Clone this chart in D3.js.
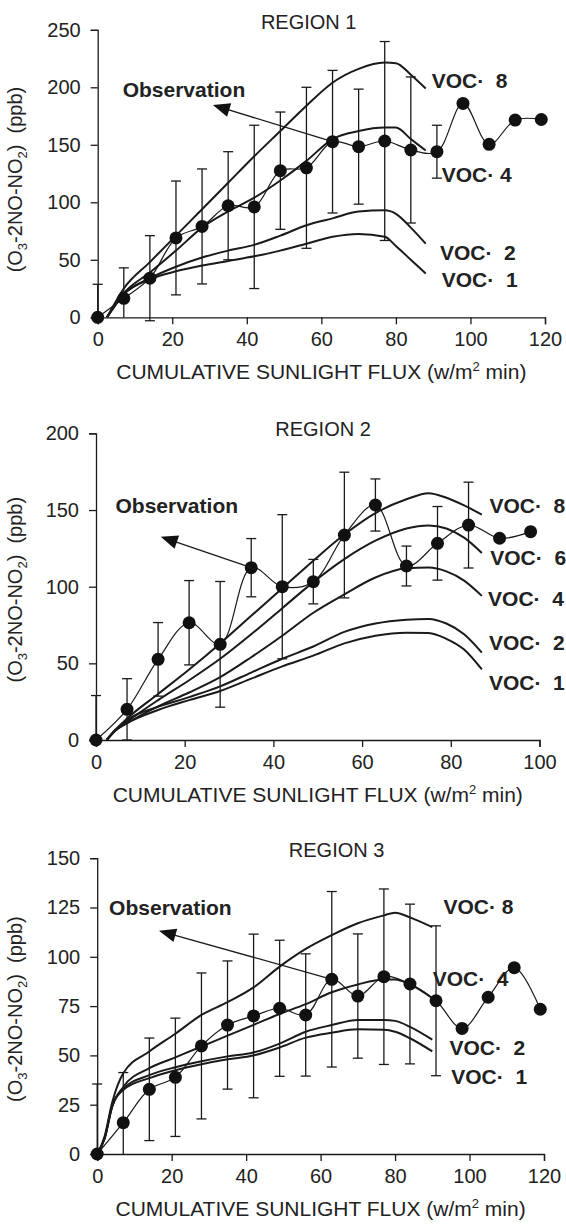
<!DOCTYPE html>
<html><head><meta charset="utf-8">
<script src="https://cdn.jsdelivr.net/npm/d3@7"></script>
<style>
html,body{margin:0;padding:0;background:#fff;}
svg{display:block;font-family:"Liberation Sans",Arial,Helvetica,sans-serif;}
</style></head><body>
<svg id="chart" width="566" height="1226"></svg>
<script>
// ---------------- DATA ----------------
// Region 1
const r1ObsX = [0,7,14,21,28,35,42,49,56,63,70,77,84,91,98,105,112,119];
const r1Obs  = [0,16.5,34,69,79,97,96,127.5,130,152.7,148.4,153.3,145.5,144,186,150.4,171.5,172];
const r1Err  = [28.7,26.5,37,49.5,50,47,71,51,70,62,50,86.5,63.5,23];
const r1ModelX = [2.5,7,14,21,28,35,42,49,56,63,70,77,80,84,88];
const r1Voc8 = [0,25,48,71,94,117,140,162,184,204,216,221.5,221,211,199];
const r1Voc4 = [0,21,39,58,78,92,104,119,136,155,162,165,165,155,145];
const r1Voc2 = [0,20,34,44,52,58,63,71,80,86,92,93,90,78,64];
const r1Voc1 = [0,20,33,40,45,49,53,58,64,70,72.5,70,62,50,38];
const r1XTicks = [0,20,40,60,80,100,120];
const r1YTicks = [0,50,100,150,200,250];

// Region 2
const r2ObsX = [0,7,14,21,28,35,42,49,56,63,70,77,84,91,98];
const r2Obs  = [0,20,52.6,76.5,62.4,112.4,100,103.3,133.7,153.3,113.5,128.3,140.2,131.6,135.9];
const r2Err  = [29,20,24,27.5,41,19,47,14.5,41,17,13,24,28];
const r2ModelX = [2.4,4.3,7,14,21,28,35,42,49,56,63,70,75,79,83,87];
const r2Voc8 = [0,6.5,14,30,46,63,81,99,117,134,148,157,161,158,153,147];
const r2Voc6 = [0,6,12,26,39,53,69,86,103,118,130,138,140,138,132,122];
const r2Voc4 = [0,6,11,22,31,41,54,68,83,95,106,112,112.5,110,104,94];
const r2Voc2 = [0,6,13,21.7,28,35,44,53,61,70.5,76,78.5,79,76,69,57];
const r2Voc1 = [0,6,11,19.6,26,32,40,48,55,63,68,70,69.8,66,59,46];
const r2XTicks = [0,20,40,60,80,100];
const r2YTicks = [0,50,100,150,200];

// Region 3
const r3ObsX = [0,7,14,21,28,35,42,49,56,63,70,77,84,91,98,105,112,119];
const r3Obs  = [0,15.9,32.8,38.9,54.8,65.4,70,73.9,70.5,88.6,80.1,89.9,86.2,77.7,63.7,79.5,94.5,73.4];
const r3Err  = [35.5,25.4,26,30,37,32.5,41.5,34.5,31,44.5,31.5,44.5,40.5,38];
const r3ModelX = [0,2,4,7,14,21,28,35,42,49,56,63,70,77,80,84,90];
const r3Voc8 = [0,9,26,41,52,61,70.5,77,84.5,95,104,111,117,121,122.4,120,115];
const r3Voc4 = [0,8,24,34,43.5,49,54.5,60,65.5,71,76,82,86,88.5,88.5,86,79];
const r3Voc2 = [0,8,24,33,40,44,47,49.5,51.5,56,62,65.4,68,68,67.5,64.5,58];
const r3Voc1 = [0,8,24,32.5,38.5,42.5,45.5,48,50,54,59,61.5,63.2,63,62,58.7,52];
const r3XTicks = [0,20,40,60,80,100,120];
const r3YTicks = [0,25,50,75,100,125,150];

const vocLabels = ["VOC\u00B7  8","VOC\u00B7  6","VOC\u00B7  4","VOC\u00B7 4","VOC\u00B7  2","VOC\u00B7  1","VOC\u00B7 8"];

// ---------------- LAYOUT ----------------
const panels = [
  {title:"REGION 1", titleAt:[56.6,250.5], xDomain:[0,120], yDomain:[0,250],
   xRange:[97.7,545], yRange:[317.3,29.8], xTicks:r1XTicks, yTicks:r1YTicks,
   obsX:r1ObsX, obs:r1Obs, err:r1Err, modelX:r1ModelX,
   models:[{v:r1Voc8,label:vocLabels[0],at:[89.6,199.2]},
           {v:r1Voc4,label:vocLabels[3],at:[92.3,117.4]},
           {v:r1Voc2,label:vocLabels[4],at:[91.8,49.8]},
           {v:r1Voc1,label:vocLabels[5],at:[92.3,26.7]}],
   obsLabelAt:[6.7,191.2], arrowTip:[30.9,184.6], arrowFrom:9, yLabelShift:3},
  {title:"REGION 2", titleAt:[51.2,198.3], xDomain:[0,100], yDomain:[0,200],
   xRange:[96,539.5], yRange:[740,433.4], xTicks:r2XTicks, yTicks:r2YTicks,
   obsX:r2ObsX, obs:r2Obs, err:r2Err, modelX:r2ModelX,
   models:[{v:r2Voc8,label:vocLabels[0],at:[88.7,147.9]},
           {v:r2Voc6,label:vocLabels[1],at:[88.9,114.2]},
           {v:r2Voc4,label:vocLabels[2],at:[88.4,87.4]},
           {v:r2Voc2,label:vocLabels[4],at:[88.6,58.7]},
           {v:r2Voc1,label:vocLabels[5],at:[88.6,32.6]}],
   obsLabelAt:[4.4,148], arrowTip:[14.6,132.6], arrowFrom:5, yLabelShift:0},
  {title:"REGION 3", titleAt:[64.3,150.6], xDomain:[0,120], yDomain:[0,150],
   xRange:[97.2,544], yRange:[1154,858.2], xTicks:r3XTicks, yTicks:r3YTicks,
   obsX:r3ObsX, obs:r3Obs, err:r3Err, modelX:r3ModelX,
   models:[{v:r3Voc8,label:vocLabels[6],at:[93,121.6]},
           {v:r3Voc4,label:vocLabels[2],at:[90.1,85.2]},
           {v:r3Voc2,label:vocLabels[4],at:[94.6,50.2]},
           {v:r3Voc1,label:vocLabels[5],at:[95.1,35.5]}],
   obsLabelAt:[3.2,121.2], arrowTip:[16.6,113.2], arrowFrom:9, yLabelShift:0}
];

const INK = "#1a1a1a";
const svg = d3.select("#chart");

panels.forEach(p => {
  const x = d3.scaleLinear().domain(p.xDomain).range(p.xRange);
  const y = d3.scaleLinear().domain(p.yDomain).range(p.yRange);
  const g = svg.append("g");

  // axes
  const gx = g.append("g").attr("transform",`translate(0,${p.yRange[0]})`)
    .call(d3.axisBottom(x).tickValues(p.xTicks).tickSize(7).tickPadding(8).tickFormat(d3.format("d")));
  const gy = g.append("g").attr("transform",`translate(${p.xRange[0]},0)`)
    .call(d3.axisLeft(y).tickValues(p.yTicks).tickSize(7).tickPadding(10).tickFormat(d3.format("d")));
  [gx,gy].forEach(a => {
    a.attr("font-family",null).attr("font-size",null);
    a.select(".domain").attr("stroke",INK).attr("stroke-width",1.3);
    a.selectAll(".tick line").attr("stroke",INK).attr("stroke-width",1.3);
    a.selectAll(".tick text").attr("fill","#222").style("font-size","20px");
  });

  // error bars
  const cap = 5;
  p.err.forEach((e,i) => {
    const v = p.obs[i], xi = x(p.obsX[i]);
    const top = v + e;
    let bot = v - e, botCap = true;
    if (bot < -4) { bot = 0; botCap = false; }
    g.append("line").attr("x1",xi).attr("x2",xi).attr("y1",y(bot)).attr("y2",y(top))
      .attr("stroke",INK).attr("stroke-width",1.3);
    g.append("line").attr("x1",xi-cap).attr("x2",xi+cap).attr("y1",y(top)).attr("y2",y(top))
      .attr("stroke",INK).attr("stroke-width",1.3);
    if (botCap) g.append("line").attr("x1",xi-cap).attr("x2",xi+cap).attr("y1",y(bot)).attr("y2",y(bot))
      .attr("stroke",INK).attr("stroke-width",1.3);
  });

  // model lines
  const ml = d3.line().x(d=>x(d[0])).y(d=>y(d[1])).curve(d3.curveMonotoneX);
  p.models.forEach(m => {
    g.append("path").attr("d", ml(p.modelX.map((xv,i)=>[xv,m.v[i]])))
      .attr("fill","none").attr("stroke",INK).attr("stroke-width",2);
    g.append("text").attr("x",x(m.at[0])).attr("y",y(m.at[1]))
      .attr("xml:space","preserve").style("white-space","pre")
      .style("font-size","21px").style("font-weight","bold").attr("fill","#222").text(m.label);
  });

  // observation line + markers
  const ol = d3.line().x(d=>x(d[0])).y(d=>y(d[1])).curve(d3.curveCatmullRom.alpha(0.5));
  const obsPts = p.obsX.map((xv,i)=>[xv,p.obs[i]]);
  g.append("path").attr("d", ol(obsPts)).attr("fill","none").attr("stroke",INK).attr("stroke-width",1.2);
  g.selectAll(null).data(obsPts).enter().append("circle")
    .attr("cx",d=>x(d[0])).attr("cy",d=>y(d[1])).attr("r",6.5).attr("fill","#111");

  // arrow
  const t0 = [x(p.obsX[p.arrowFrom]), y(p.obs[p.arrowFrom])];
  const t1 = [x(p.arrowTip[0]), y(p.arrowTip[1])];
  const dx = t1[0]-t0[0], dy = t1[1]-t0[1], len = Math.hypot(dx,dy);
  const ux = dx/len, uy = dy/len, L = 17, W = 7;
  const bx = t1[0]-ux*L, by = t1[1]-uy*L;
  g.append("line").attr("x1",t0[0]).attr("y1",t0[1]).attr("x2",bx+ux*2).attr("y2",by+uy*2)
    .attr("stroke",INK).attr("stroke-width",1.3);
  g.append("path").attr("d",`M${t1[0]},${t1[1]}L${bx-uy*W},${by+ux*W}L${bx+uy*W},${by-ux*W}Z`).attr("fill","#111");

  g.append("text").attr("x",x(p.obsLabelAt[0])).attr("y",y(p.obsLabelAt[1]))
    .style("font-size","21px").style("font-weight","bold").attr("fill","#222").text("Observation");

  // title
  g.append("text").attr("x",x(p.titleAt[0])).attr("y",y(p.titleAt[1])).attr("text-anchor","middle")
    .style("font-size","20px").attr("fill","#222").text(p.title);

  // x axis title
  const xt = g.append("text").attr("x",(p.xRange[0]+p.xRange[1])/2).attr("y",p.yRange[0]+62)
    .attr("text-anchor","middle").style("font-size","21px").attr("fill","#222");
  xt.append("tspan").text("CUMULATIVE SUNLIGHT FLUX (w/m");
  xt.append("tspan").attr("dy",-8).style("font-size","13px").text("2");
  xt.append("tspan").attr("dy",8).text(" min)");

  // y axis title
  const yc = (p.yRange[0]+p.yRange[1])/2 + 3 + p.yLabelShift;
  const yt = g.append("text").attr("transform",`translate(22,${yc}) rotate(-90)`)
    .attr("text-anchor","middle").style("font-size","20px").attr("fill","#222");
  yt.append("tspan").text("(O");
  yt.append("tspan").attr("dy",5).style("font-size","13px").text("3");
  yt.append("tspan").attr("dy",-5).text("-2NO-NO");
  yt.append("tspan").attr("dy",5).style("font-size","13px").text("2");
  yt.append("tspan").attr("dy",-5).text(")\u00A0\u00A0(ppb)");
});
</script>
</body></html>
